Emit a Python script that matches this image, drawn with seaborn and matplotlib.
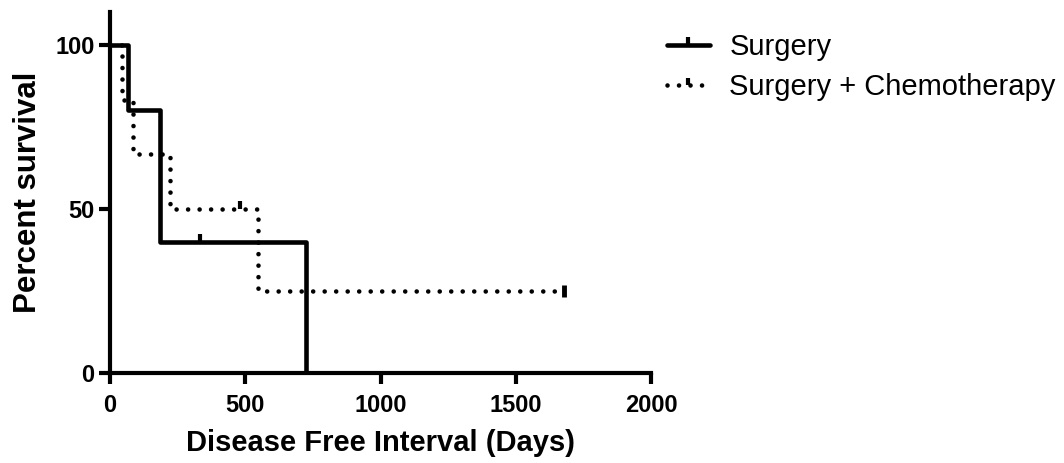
import matplotlib
matplotlib.use("Agg")
import matplotlib.pyplot as plt
import seaborn as sns
import pandas as pd
from matplotlib.lines import Line2D

# Step points
surgery_time = [0, 65, 183, 724]
surgery_surv = [100, 80, 40, 0]
surgery_cens_time = [333]
surgery_cens_surv = [40]

chemo_time = [0, 44, 85, 222, 546, 1678]
chemo_surv = [100, 83.3, 66.7, 50, 25, 25]
chemo_cens_time = [481, 1678]
chemo_cens_surv = [50, 25]

series_labels = ["Surgery", "Surgery + Chemotherapy"]
x_ticks = [0, 500, 1000, 1500, 2000]
y_ticks = [0, 50, 100]

sns.set_theme(style="ticks")
plt.rcParams['font.family'] = ['Liberation Sans', 'DejaVu Sans']
plt.rcParams['text.color'] = 'black'
plt.rcParams['axes.labelcolor'] = 'black'
plt.rcParams['xtick.color'] = 'black'
plt.rcParams['ytick.color'] = 'black'

fig = plt.figure(figsize=(10.64, 4.63), dpi=100)
ax = fig.add_axes([110/1064, 90/463, (651-110)/1064, (373-12)/463])

lw = 3.3
dot_style = (0, (0.01, 2.5))

df_s = pd.DataFrame({"t": surgery_time, "s": surgery_surv})
df_c = pd.DataFrame({"t": chemo_time, "s": chemo_surv})

sns.lineplot(data=df_s, x="t", y="s", ax=ax, color="black", lw=lw,
             drawstyle="steps-post", estimator=None, sort=False, legend=False,
             solid_capstyle="butt")
sns.lineplot(data=df_c, x="t", y="s", ax=ax, color="black", lw=lw,
             drawstyle="steps-post", estimator=None, sort=False, legend=False,
             linestyle=dot_style, dash_capstyle="round")

# censor marks (small upward ticks; the final one a full bar)
ax.plot(surgery_cens_time, surgery_cens_surv, ls="none", marker=2,
        color="black", ms=6, mew=3)
ax.plot(chemo_cens_time[:-1], chemo_cens_surv[:-1], ls="none", marker=2,
        color="black", ms=6, mew=3)
ax.plot(chemo_cens_time[-1:], chemo_cens_surv[-1:], ls="none", marker="|",
        color="black", ms=9, mew=3.5)

ax.set_xlim(0, 2000)
ax.set_ylim(0, 110)
ax.set_xticks(x_ticks)
ax.set_yticks(y_ticks)
ax.set_xticklabels([str(v) for v in x_ticks], fontsize=17, fontweight="bold")
ax.set_yticklabels([str(v) for v in y_ticks], fontsize=17, fontweight="bold")
ax.tick_params(axis="both", direction="out", length=8, width=3, color="black", pad=3)
ax.tick_params(axis="x", pad=7)
for side in ["left", "bottom"]:
    ax.spines[side].set_linewidth(3)
    ax.spines[side].set_color("black")
sns.despine(ax=ax)
ax.spines["left"].set_bounds(0, 110)

ax.set_xlabel("Disease Free Interval (Days)", fontsize=21, fontweight="bold", labelpad=9)
ax.set_ylabel("Percent survival", fontsize=22.5, fontweight="bold", labelpad=9)

handles = [
    Line2D([0, 0.5, 1], [0, 0, 0], color="black", lw=lw, marker=2, ms=6, mew=3, markevery=[1]),
    Line2D([0, 0.5, 1], [0, 0, 0], color="black", lw=lw, linestyle=dot_style, dash_capstyle="round",
           marker=2, ms=5, mew=3, markevery=[1]),
]
leg = fig.legend(handles, series_labels, loc="upper left",
                 bbox_to_anchor=(641/1064, 1 - 7/463), frameon=False,
                 fontsize=21, handlelength=1.45, handletextpad=0.68, labelspacing=0.4)

fig.savefig("out.png", dpi=100)
